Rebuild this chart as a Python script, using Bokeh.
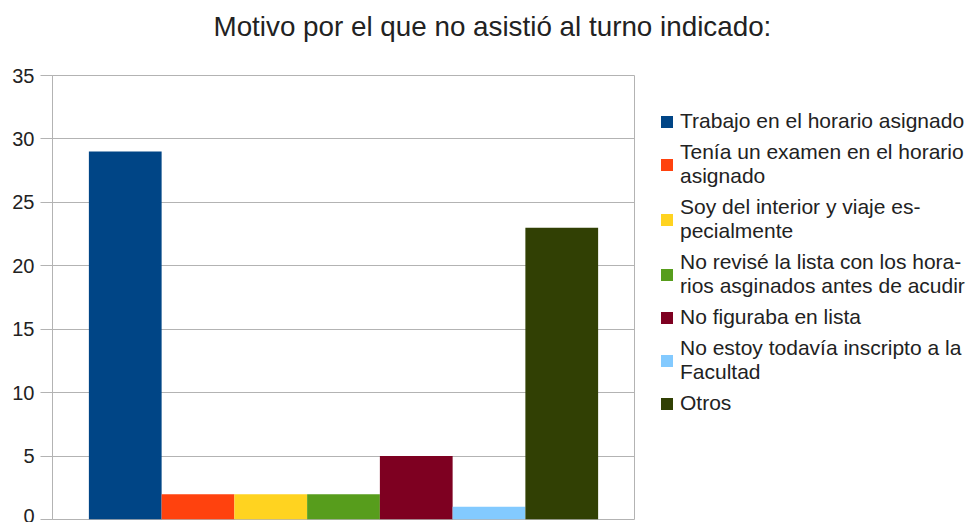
from bokeh.plotting import figure
from bokeh.models import Legend, LegendItem, FixedTicker, Title
from bokeh.embed import file_html
from bokeh.resources import INLINE

title_text = "Motivo por el que no asistió al turno indicado:"
categories = [
    "Trabajo en el horario asignado",
    "Tenía un examen en el horario\nasignado",
    "Soy del interior y viaje es-\npecialmente",
    "No revisé la lista con los hora-\nrios asginados antes de acudir",
    "No figuraba en lista",
    "No estoy todavía inscripto a la\nFacultad",
    "Otros",
]
values = [29, 2, 2, 2, 5, 1, 23]
colors = ["#004586", "#ff420e", "#ffd320", "#579d1c", "#7e0021", "#83caff", "#314004"]
y_ticks = [0, 5, 10, 15, 20, 25, 30, 35]

FONT = "Liberation Sans"

p = figure(frame_width=582, frame_height=444, x_range=(0, len(values) + 1), y_range=(0, 35),
           output_backend="svg", toolbar_location=None, x_axis_location=None,
           min_border_left=52, min_border_right=0, min_border_top=75, min_border_bottom=3)

items = []
for i, (cat, val, col) in enumerate(zip(categories, values, colors)):
    r = p.vbar(x=[i + 1], top=[val], bottom=0, width=1, fill_color=col, line_color=None)
    items.append(LegendItem(label=cat, renderers=[r]))

legend = Legend(items=items, location=(25, 104), orientation="vertical",
                label_text_font=FONT, label_text_font_size="21px", label_text_color="#222222",
                glyph_width=15, glyph_height=15, spacing=7, padding=0, margin=0,
                label_standoff=6, border_line_color=None, background_fill_alpha=0)
p.add_layout(legend, "right")

# spacer between the title and the frame
p.add_layout(Title(text=" ", text_font_size="16px"), "above")

p.title.text = title_text
p.title.text_font = FONT
p.title.text_font_size = "27.8px"
p.title.text_font_style = "normal"
p.title.text_color = "#222222"
p.title.align = "left"
p.title.offset = 161

p.yaxis.ticker = FixedTicker(ticks=y_ticks)
p.yaxis.major_label_text_font = FONT
p.yaxis.major_label_text_font_size = "20px"
p.yaxis.major_label_text_color = "#222222"
p.yaxis.axis_line_color = "#b3b3b3"
p.yaxis.major_tick_line_color = "#b3b3b3"
p.yaxis.major_tick_out = 12
p.yaxis.major_tick_in = 0
p.yaxis.minor_tick_line_color = None
p.yaxis.major_label_standoff = 6

p.xgrid.grid_line_color = None
p.ygrid.grid_line_color = "#b3b3b3"
p.ygrid.ticker = FixedTicker(ticks=y_ticks)
p.outline_line_color = "#b3b3b3"
p.background_fill_color = "white"
p.border_fill_color = "white"

open("out.html", "w").write(file_html(p, INLINE))
